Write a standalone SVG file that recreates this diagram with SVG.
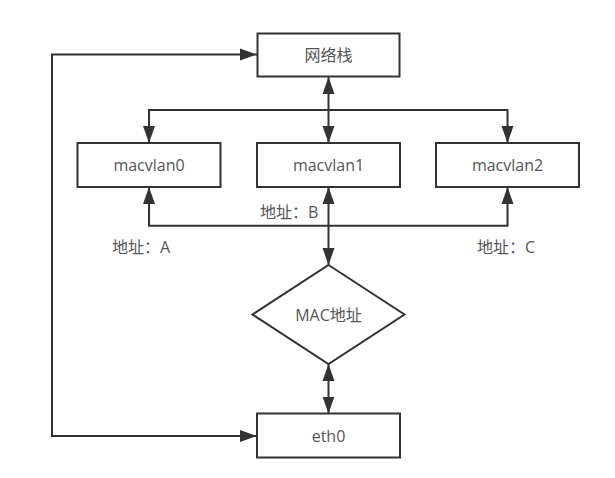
<svg xmlns="http://www.w3.org/2000/svg" width="615" height="478" viewBox="0 0 615 478">
<style>
.box{fill:#fff;stroke:#333;stroke-width:2}
.lbl{font-family:"Open Sans","Noto Sans CJK SC",sans-serif;font-size:16px;fill:#555;text-anchor:middle;dominant-baseline:central}
.note{font-family:"Open Sans","Noto Sans CJK SC",sans-serif;font-size:16px;fill:#555;dominant-baseline:central}
.edge{fill:none;stroke:#333;stroke-width:2}
</style>
<defs>
<marker id="arr" markerUnits="userSpaceOnUse" markerWidth="18" markerHeight="14" refX="17" refY="6" orient="auto-start-reverse" viewBox="0 0 18 12">
<path d="M0,0 L17,6 L0,12 z" fill="#333"/>
</marker>
</defs>
<rect width="615" height="478" fill="#fff"/>
<g id="connectors">
<path class="edge" d="M328.5,77 V143" marker-start="url(#arr)" marker-end="url(#arr)"/>
<path class="edge" d="M328.5,110 H149 V143" marker-end="url(#arr)"/>
<path class="edge" d="M328.5,110 H507.5 V143" marker-end="url(#arr)"/>
<path class="edge" d="M328.5,265 V187" marker-start="url(#arr)" marker-end="url(#arr)"/>
<path class="edge" d="M328.5,225.7 H149 V187" marker-end="url(#arr)"/>
<path class="edge" d="M328.5,225.7 H507.5 V187" marker-end="url(#arr)"/>
<path class="edge" d="M328.5,364 V413.5" marker-start="url(#arr)" marker-end="url(#arr)"/>
<path class="edge" d="M257,436 H52 V54.5 H257" marker-start="url(#arr)" marker-end="url(#arr)"/>
</g>
<g id="node-stack">
<rect class="box" x="257.5" y="33.5" width="142" height="43"/>
<text class="lbl" x="328.5" y="55">网络栈</text>
</g>
<g id="node-macvlan0">
<rect class="box" x="77.5" y="143" width="143" height="44"/>
<text class="lbl" x="149" y="165">macvlan0</text>
</g>
<g id="node-macvlan1">
<rect class="box" x="257" y="143" width="143" height="44"/>
<text class="lbl" x="328.5" y="165">macvlan1</text>
</g>
<g id="node-macvlan2">
<rect class="box" x="436" y="143" width="143" height="44"/>
<text class="lbl" x="507.5" y="165">macvlan2</text>
</g>
<g id="node-mac">
<polygon class="box" points="328.5,265 404.5,314.5 328.5,364 252.5,314.5"/>
<text class="lbl" x="328.5" y="315">MAC地址</text>
</g>
<g id="node-eth0">
<rect class="box" x="257" y="413.5" width="143" height="44"/>
<text class="lbl" x="328.5" y="435.5">eth0</text>
</g>
<g id="labels">
<text class="note" x="112" y="246.7">地址：A</text>
<text class="note" x="260" y="212.3">地址：B</text>
<text class="note" x="477" y="246.7">地址：C</text>
</g>
</svg>
